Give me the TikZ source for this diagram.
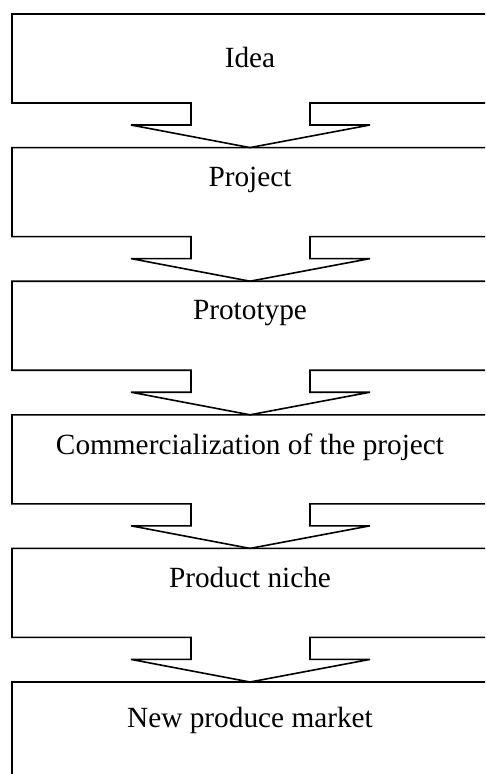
\documentclass[tikz,border=0pt]{standalone}
\usepackage{fontspec}
\setmainfont{Liberation Serif}
\usetikzlibrary{positioning}

\tikzset{
  stagebox/.style={draw=black, line width=1.6pt, line join=miter},
  stagetext/.style={anchor=base, font=\fontsize{29.3}{35}\selectfont, inner sep=0pt},
}

\begin{document}
\begin{tikzpicture}[x=1pt, y=-1pt]
  \useasboundingbox (0,0) rectangle (485,774);
  \clip (0,0) rectangle (485,774);
  % arrow boxes
  \foreach \t in {14,147.6,281.2,414.8,548.4}{
    \draw[stagebox] (12,\t) -- (495,\t) -- (495,\t+89) -- (310,\t+89) -- (310,\t+111)
      -- (370,\t+111) -- (250,\t+133.6) -- (131,\t+111) -- (191,\t+111) -- (191,\t+89)
      -- (12,\t+89) -- cycle;
  }
  \draw[stagebox] (12,682) rectangle (495,790);

  % stage labels
  \node[stagetext] (idea) at (250,67.7) {Idea};
  \node[stagetext] (project) at (250,186) {Project};
  \node[stagetext] (prototype) at (250,319.3) {Prototype};
  \node[stagetext] (commerce) at (250,454) {Commercialization of the project};
  \node[stagetext] (niche) at (250,587) {Product niche};
  \node[stagetext] (market) at (250,727) {New produce market};
\end{tikzpicture}
\end{document}
